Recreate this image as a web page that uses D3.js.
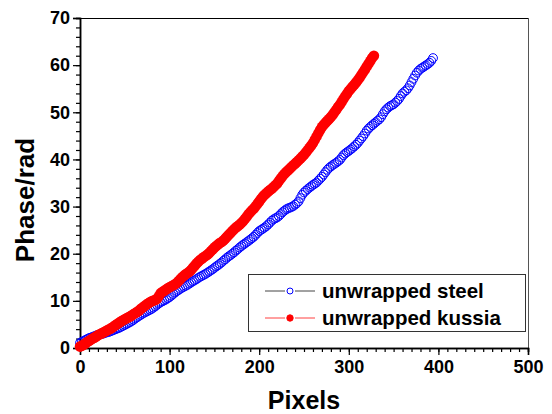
<!DOCTYPE html>
<html>
<head>
<meta charset="utf-8">
<script src="https://cdn.jsdelivr.net/npm/d3@7"></script>
<style>
  body { margin: 0; background: #fff; }
  svg { display: block; font-family: "Liberation Sans", Arial, sans-serif; font-weight: bold; }
</style>
</head>
<body>
<svg width="552" height="414"></svg>
<script>
// datos (una muestra cada 2 píxeles)
const steelPixels = d3.range(0, 395, 2);
const steelPhase = [
  1.1,1.3,1.5,1.7,1.9,2.1,2.2,2.35,2.5,2.65,2.8,2.9,3.0,3.05,3.2,3.3,3.4,3.55,3.7,3.85,
  4.0,4.15,4.3,4.5,4.7,4.9,5.1,5.3,5.5,5.75,6.0,6.3,6.55,6.8,7.05,7.3,7.5,7.7,7.9,8.1,
  8.3,8.55,8.85,9.15,9.45,9.7,9.9,10.1,10.3,10.55,10.8,11.1,11.45,11.75,12.05,12.3,12.55,12.8,13.0,13.2,
  13.4,13.65,13.9,14.15,14.35,14.6,14.85,15.1,15.3,15.5,15.7,15.95,16.2,16.45,16.7,17.0,17.3,17.55,17.85,18.15,
  18.5,18.8,19.15,19.45,19.7,20.0,20.3,20.65,20.95,21.3,21.6,21.9,22.15,22.45,22.7,23.0,23.3,23.6,24.0,24.4,
  24.8,25.05,25.3,25.55,25.85,26.2,26.6,27.0,27.3,27.5,27.7,28.0,28.4,28.8,29.1,29.4,29.6,29.75,29.9,30.1,
  30.4,30.7,31.1,31.8,32.5,33.0,33.35,33.7,34.0,34.3,34.6,34.85,35.1,35.5,35.9,36.3,36.8,37.3,37.8,38.2,
  38.5,38.8,39.05,39.3,39.6,39.9,40.4,40.9,41.25,41.55,41.8,42.1,42.4,42.75,43.1,43.5,44.0,44.45,44.95,45.5,
  46.1,46.55,46.9,47.25,47.55,47.9,48.2,48.5,48.95,49.6,50.2,50.65,51.0,51.3,51.5,51.7,52.05,52.4,52.85,53.45,
  54.0,54.35,54.65,55.1,55.7,56.4,57.1,57.8,58.4,58.85,59.2,59.45,59.7,59.95,60.2,60.5,60.9,61.5
];

const kussiaPixels = d3.range(0, 329, 2);
const kussiaPhase = [
  0.3,0.5,0.7,0.95,1.25,1.5,1.75,2.0,2.2,2.45,2.7,2.9,3.1,3.3,3.5,3.7,3.9,4.1,4.35,4.6,
  4.9,5.15,5.4,5.65,5.9,6.1,6.3,6.5,6.7,6.95,7.2,7.45,7.7,7.95,8.3,8.6,8.9,9.2,9.45,9.7,
  9.9,10.05,10.2,10.45,11.0,11.6,11.9,12.15,12.4,12.65,12.9,13.1,13.3,13.5,13.8,14.2,14.6,15.0,15.35,15.65,
  15.9,16.2,16.55,17.0,17.45,17.9,18.3,18.65,18.95,19.25,19.5,19.8,20.1,20.5,20.9,21.3,21.65,21.95,22.25,22.5,
  22.8,23.2,23.6,24.0,24.4,24.8,25.2,25.55,25.85,26.15,26.5,26.9,27.35,27.85,28.35,28.8,29.2,29.6,30.05,30.55,
  31.1,31.6,32.1,32.5,32.85,33.2,33.5,33.8,34.15,34.5,34.9,35.4,35.95,36.45,36.9,37.3,37.65,38.0,38.4,38.75,
  39.1,39.45,39.8,40.2,40.6,41.0,41.45,41.95,42.45,42.95,43.5,44.15,44.85,45.55,46.25,46.9,47.35,47.8,48.2,48.6,
  49.0,49.5,50.0,50.55,51.1,51.6,52.2,52.8,53.4,53.95,54.5,54.95,55.4,55.85,56.3,56.8,57.35,57.9,58.5,59.1,
  59.7,60.3,60.9,61.5,62.0
];

const xTicks = [0, 100, 200, 300, 400, 500];
const yTicks = [0, 10, 20, 30, 40, 50, 60, 70];
const seriesNames = ["unwrapped steel", "unwrapped kussia"];

const svg = d3.select("svg");
const mLeft = 80, mRight = 528, mTop = 18, mBottom = 348;

const x = d3.scaleLinear().domain([0, 500]).range([mLeft, mRight]);
const y = d3.scaleLinear().domain([0, 70]).range([mBottom, mTop]);

// marco superior y derecho
svg.append("line").attr("x1", mLeft).attr("x2", mRight).attr("y1", mTop + 0.5).attr("y2", mTop + 0.5)
  .attr("stroke", "#000").attr("stroke-width", 1);
svg.append("line").attr("x1", mRight + 0.5).attr("x2", mRight + 0.5).attr("y1", mTop).attr("y2", mBottom)
  .attr("stroke", "#555").attr("stroke-width", 1);

// ejes con marcas menores
const xMinor = d3.axisBottom(x).tickValues(d3.range(0, 501, 10)).tickSize(4).tickFormat("");
const xMajor = d3.axisBottom(x).tickValues(xTicks).tickSize(7).tickPadding(5);
const yMinor = d3.axisLeft(y).tickValues(d3.range(0, 71, 2)).tickSize(4).tickFormat("");
const yMajor = d3.axisLeft(y).tickValues(yTicks).tickSize(7).tickPadding(3);

[xMinor, xMajor].forEach(ax => svg.append("g").attr("transform", `translate(0,${mBottom})`).call(ax));
[yMinor, yMajor].forEach(ax => svg.append("g").attr("transform", `translate(${mLeft},0)`).call(ax));

svg.selectAll(".domain").attr("stroke", "#000").attr("stroke-width", 1.5);
svg.selectAll(".tick line").attr("stroke", "#000").attr("stroke-width", 1.2);
svg.selectAll(".tick text").attr("font-size", 18).attr("font-weight", "bold")
  .attr("font-family", "Liberation Sans, Arial, sans-serif").attr("fill", "#000");

// títulos
svg.append("text").attr("x", (mLeft + mRight) / 2).attr("y", 409)
  .attr("text-anchor", "middle").attr("font-size", 25).text("Pixels");
svg.append("text").attr("transform", "translate(34,200) rotate(-90)")
  .attr("text-anchor", "middle").attr("font-size", 26).text("Phase/rad");

// series
const steel = steelPixels.map((p, i) => [p, steelPhase[i]]);
const kussia = kussiaPixels.map((p, i) => [p, kussiaPhase[i]]);

svg.append("g").selectAll("circle").data(steel).enter().append("circle")
  .attr("cx", d => x(d[0])).attr("cy", d => y(d[1])).attr("r", 4.4)
  .attr("fill", "none").attr("stroke", "#0000ff").attr("stroke-width", 1);

svg.append("g").selectAll("circle").data(kussia).enter().append("circle")
  .attr("cx", d => x(d[0])).attr("cy", d => y(d[1])).attr("r", 5.3)
  .attr("fill", "#ff0000");

// leyenda
const legend = svg.append("g");
legend.append("rect").attr("x", 248.5).attr("y", 274.5).attr("width", 277).attr("height", 57)
  .attr("fill", "#fff").attr("stroke", "#333").attr("stroke-width", 1);
const rows = [
  { name: seriesNames[0], line: "#444", cy: 291, fill: "#fff", stroke: "#0000ff", r: 3 },
  { name: seriesNames[1], line: "#ff4040", cy: 318, fill: "#ff0000", stroke: "#ff0000", r: 3.2 }
];
rows.forEach(r => {
  legend.append("line").attr("x1", 265).attr("x2", 285).attr("y1", r.cy).attr("y2", r.cy)
    .attr("stroke", r.line).attr("stroke-width", 1);
  legend.append("line").attr("x1", 295).attr("x2", 315).attr("y1", r.cy).attr("y2", r.cy)
    .attr("stroke", r.line).attr("stroke-width", 1);
  legend.append("circle").attr("cx", 290).attr("cy", r.cy).attr("r", r.r)
    .attr("fill", r.fill).attr("stroke", r.stroke).attr("stroke-width", 1);
  legend.append("text").attr("x", 322).attr("y", r.cy + 6.5).attr("font-size", 20.5).text(r.name);
});
</script>
</body>
</html>
